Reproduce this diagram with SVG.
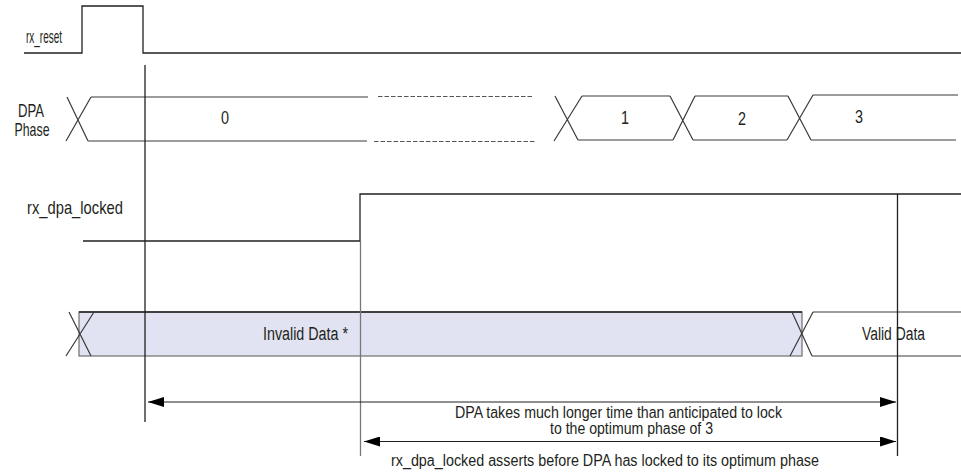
<svg xmlns="http://www.w3.org/2000/svg" width="961" height="472" viewBox="0 0 961 472">
  <style>
    .sig { fill: none; stroke: #231f20; stroke-width: 1.3; }
    .bus { fill: none; stroke: #3a3a3a; stroke-width: 1.2; }
    .dash { fill: none; stroke: #555; stroke-width: 1; stroke-dasharray: 4.5 2; }
    .mark { fill: none; stroke: #231f20; stroke-width: 1.3; }
    .mark-gray { fill: none; stroke: #777; stroke-width: 1.3; }
    .arrow { fill: none; stroke: #231f20; stroke-width: 1.1; marker-start: url(#head-start); marker-end: url(#head-end); }
    text { font-family: "Liberation Sans", Arial, sans-serif; font-size: 18px; fill: #231f20; }
    .label { font-size: 19px; }
    .note { font-size: 16px; }
    .mid { text-anchor: middle; }
  </style>
  <defs>
    <marker id="head-end" viewBox="0 0 16 10" refX="16" refY="5" markerWidth="16" markerHeight="10" markerUnits="userSpaceOnUse" orient="auto">
      <path d="M0,0 L16,5 L0,10 Z" fill="#000"/>
    </marker>
    <marker id="head-start" viewBox="0 0 16 10" refX="0" refY="5" markerWidth="16" markerHeight="10" markerUnits="userSpaceOnUse" orient="auto">
      <path d="M16,0 L0,5 L16,10 Z" fill="#000"/>
    </marker>
  </defs>

  <!-- rx_reset -->
  <g id="rx_reset">
    <text class="label" x="26" y="43" textLength="36" lengthAdjust="spacingAndGlyphs">rx_reset</text>
    <path class="sig" d="M24,53 H82 V6 H143 V53 H961"/>
  </g>

  <!-- DPA Phase bus -->
  <g id="dpa_phase">
    <text class="label mid" x="31" y="117" textLength="26" lengthAdjust="spacingAndGlyphs">DPA</text>
    <text class="label mid" x="32" y="136" textLength="35" lengthAdjust="spacingAndGlyphs">Phase</text>
    <path class="bus" d="M67,97 L88,141 M91,97 L66,141 M91,97 H368 M88,141 H367"/>
    <path class="dash" d="M378,96.5 H532 M374,141.5 H536"/>
    <path class="bus" d="M555,96 L578,140 M582,96 L554,141 M582,96 H670 M578,140 H673"/>
    <path class="bus" d="M670,96 L693,140 M695,96 L673,140 M695,96 H788 M693,140 H787"/>
    <path class="bus" d="M788,96 L811,140 M813,95 L787,140 M813,95 H958 M811,140 H956"/>
    <text x="225" y="124" class="mid" textLength="8" lengthAdjust="spacingAndGlyphs">0</text>
    <text x="625" y="124" class="mid" textLength="8" lengthAdjust="spacingAndGlyphs">1</text>
    <text x="742" y="125" class="mid" textLength="8" lengthAdjust="spacingAndGlyphs">2</text>
    <text x="859" y="123" class="mid" textLength="8" lengthAdjust="spacingAndGlyphs">3</text>
  </g>

  <!-- rx_dpa_locked -->
  <g id="rx_dpa_locked">
    <text class="label" x="27" y="214" textLength="96" lengthAdjust="spacingAndGlyphs">rx_dpa_locked</text>
    <path class="sig" d="M83,241 H360 V194 H961"/>
  </g>

  <!-- data bus -->
  <g id="data">
    <rect x="79" y="312" width="723" height="44" fill="#e1e3f2" stroke="#6e6e6e" stroke-width="1.2"/>
    <path class="sig" d="M79,312 H802" stroke-width="1.1"/>
    <path class="bus" d="M94,312 L66,356 M69,312 L91,356"/>
    <path class="bus" d="M792,312 L812,356 M813,312 L790,356 M813,312 H961 M812,356 H961"/>
    <text x="263" y="340" textLength="85" lengthAdjust="spacingAndGlyphs">Invalid Data *</text>
    <text x="862" y="340" textLength="63" lengthAdjust="spacingAndGlyphs">Valid Data</text>
  </g>

  <!-- timing markers and spans -->
  <g id="connectors">
    <path class="mark" d="M145,65 V422"/>
    <path class="mark-gray" d="M360.5,241 V456"/>
    <path class="mark" d="M897.5,194 V456"/>
    <path class="arrow" d="M148,402 H896"/>
    <path class="arrow" d="M364,441.5 H896"/>
    <text class="note" x="455" y="418" textLength="327" lengthAdjust="spacingAndGlyphs">DPA takes much longer time than anticipated to lock</text>
    <text class="note" x="550" y="434" textLength="163" lengthAdjust="spacingAndGlyphs">to the optimum phase of 3</text>
    <text class="note" x="391" y="466" textLength="428" lengthAdjust="spacingAndGlyphs">rx_dpa_locked asserts before DPA has locked to its optimum phase</text>
  </g>
</svg>
